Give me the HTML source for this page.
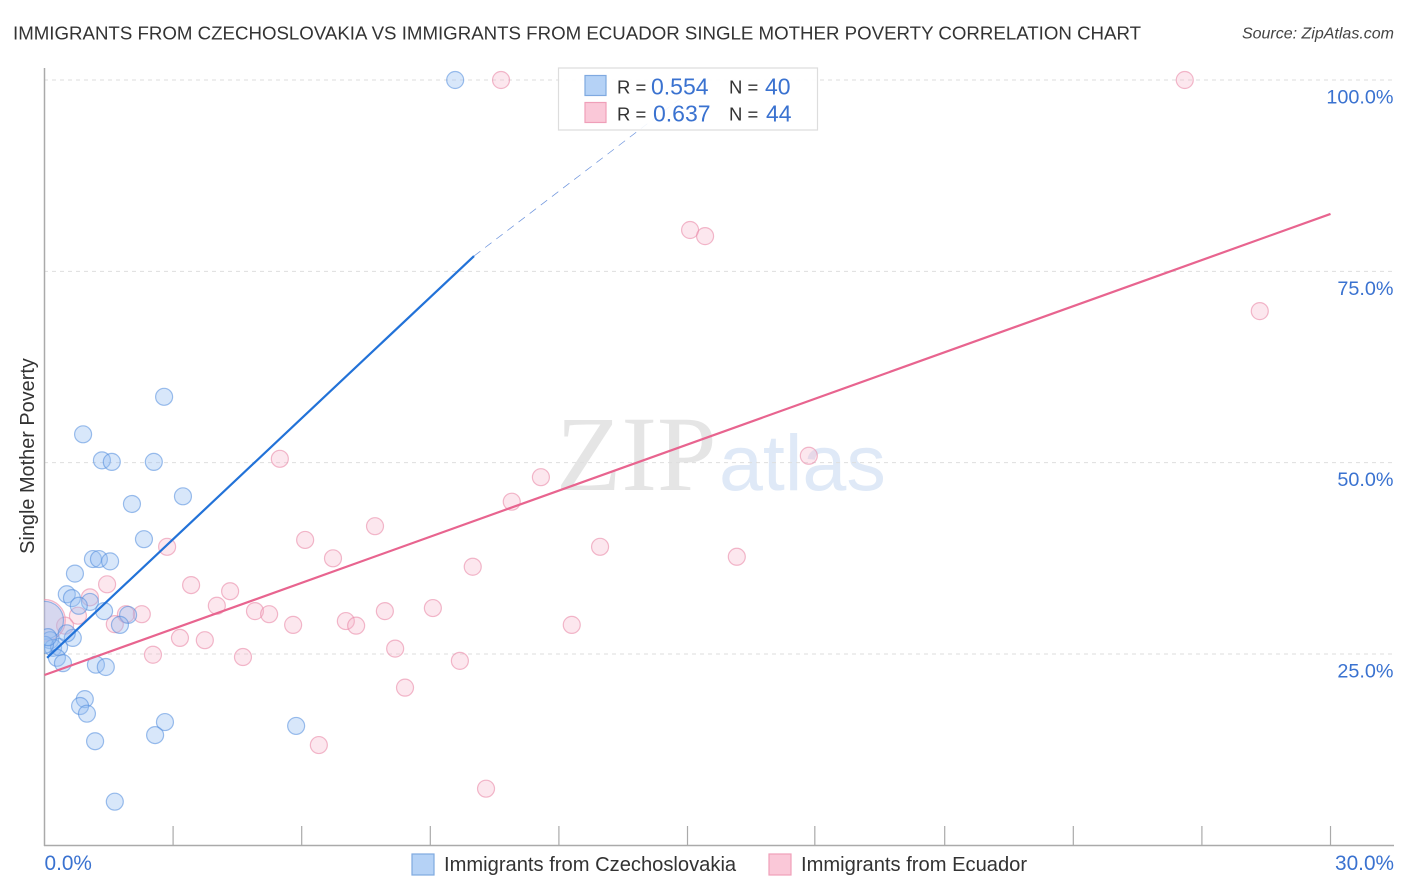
<!DOCTYPE html>
<html>
<head>
<meta charset="utf-8">
<title>Single Mother Poverty Correlation Chart</title>
<style>
html,body{margin:0;padding:0;background:#fff;width:1406px;height:892px;overflow:hidden}
svg{display:block;font-family:"Liberation Sans",sans-serif}
</style>
</head>
<body>
<svg id="chart" width="1406" height="892" viewBox="0 0 1406 892" xmlns="http://www.w3.org/2000/svg">
<defs><clipPath id="plot-clip"><rect x="44" y="60" width="1350" height="785"/></clipPath></defs>
<rect width="1406" height="892" fill="#fff"/>
<text x="13" y="39.5" font-size="18.68" fill="#333">IMMIGRANTS FROM CZECHOSLOVAKIA VS IMMIGRANTS FROM ECUADOR SINGLE MOTHER POVERTY CORRELATION CHART</text>
<text x="1394" y="38.5" font-size="16" font-style="italic" text-anchor="end" fill="#444">Source: ZipAtlas.com</text>
<text transform="translate(34,456) rotate(-90)" font-size="19.9" text-anchor="middle" fill="#333">Single Mother Poverty</text>
<g id="watermark">
<text x="556" y="490" font-family="'Liberation Serif',serif" font-size="107" fill="#e5e5e5">ZIP</text>
<text x="719" y="490" font-size="79" fill="#dfe9f7">atlas</text>
</g>
<g id="grid"></g>
<g id="axes"></g>
<g id="marks" clip-path="url(#plot-clip)"></g>
<g id="trends" clip-path="url(#plot-clip)"></g>
<g id="labels"></g>
<g>
<rect x="558.5" y="68" width="259" height="62" fill="#fff" fill-opacity="0.9" stroke="#ddd" stroke-width="1.2"/>
<rect x="585" y="75.5" width="21" height="20" fill="#b5d2f6" stroke="#7fa9e0" stroke-width="1.2"/>
<rect x="585" y="102.5" width="21" height="20" fill="#fac8d8" stroke="#ef9fb9" stroke-width="1.2"/>
<text x="617" y="93.5" font-size="18.5" fill="#333">R =</text>
<text x="651" y="94.5" font-size="23" fill="#3a72d0">0.554</text>
<text x="729" y="93.5" font-size="18.5" fill="#333">N =</text>
<text x="765" y="94.5" font-size="23" fill="#3a72d0">40</text>
<text x="617" y="120.5" font-size="18.5" fill="#333">R =</text>
<text x="653" y="121.5" font-size="23" fill="#3a72d0">0.637</text>
<text x="729" y="120.5" font-size="18.5" fill="#333">N =</text>
<text x="766" y="121.5" font-size="23" fill="#3a72d0">44</text>
</g>
<g>
<rect x="412" y="854" width="22" height="21" fill="#b5d2f6" stroke="#7fa9e0" stroke-width="1.2"/>
<text x="444" y="871" font-size="20.15" fill="#333">Immigrants from Czechoslovakia</text>
<rect x="769" y="854" width="22" height="21" fill="#fac8d8" stroke="#ef9fb9" stroke-width="1.2"/>
<text x="801" y="871" font-size="20.15" fill="#333">Immigrants from Ecuador</text>
</g>
</svg>
<script>
const blueX = [9.58,2.79,0.90,1.34,1.57,2.55,3.23,2.04,2.32,1.13,1.27,1.53,0.71,0.52,0.64,1.06,0.80,1.39,1.95,1.76,0,0.13,0.20,0.34,0.66,0.52,0.29,0.43,1.20,1.43,0.94,0.83,0.99,2.81,2.58,1.18,5.87,1.64,0.01,0.08];
const blueY = [100,58.6,53.7,50.3,50.1,50.1,45.6,44.6,40.0,37.4,37.4,37.1,35.5,32.8,32.3,31.8,31.3,30.6,30.1,28.8,29.4,26.8,25.8,25.9,27.1,27.7,24.5,23.8,23.6,23.3,19.1,18.2,17.2,16.1,14.4,13.6,15.6,5.7,26.2,27.2];
const blueWeight = [1,1,1,1,1,1,1,1,1,1,1,1,1,1,1,1,1,1,1,1,5,1,1,1,1,1,1,1,1,1,1,1,1,1,1,1,1,1,1,1];
const pinkX = [10.65,26.6,15.06,15.41,28.35,17.83,5.49,11.58,10.9,7.71,6.08,12.96,2.86,6.73,16.15,9.99,1.46,3.42,4.33,1.06,4.02,9.06,7.94,4.91,5.24,2.27,1.90,0.78,7.03,7.27,5.8,12.3,1.64,0.48,3.16,3.74,8.18,2.53,4.63,9.69,8.41,6.4,10.3,0];
const pinkY = [100,100,80.4,79.6,69.8,50.9,50.5,48.1,44.9,41.7,39.9,39.0,39.0,37.5,37.7,36.4,34.1,34.0,33.2,32.4,31.3,31.0,30.6,30.6,30.2,30.2,30.2,30.0,29.3,28.7,28.8,28.8,28.9,28.7,27.1,26.8,25.7,24.9,24.6,24.1,20.6,13.1,7.4,29.4];
const pinkWeight = [1,1,1,1,1,1,1,1,1,1,1,1,1,1,1,1,1,1,1,1,1,1,1,1,1,1,1,1,1,1,1,1,1,1,1,1,1,1,1,1,1,1,1,6];
const blueTrendX = [0.06,10.02];
const blueTrendY = [24.5,77.0];
const blueTrendDashX = [10.02,15.4];
const blueTrendDashY = [77.0,100];
const pinkTrendX = [0,30];
const pinkTrendY = [22.25,82.5];
const yTicks = [25,50,75,100];
const yTickLabels = ["25.0%","50.0%","75.0%","100.0%"];
const xTicks = [3,6,9,12,15,17.97,21,24,27,30];
const xEndTicks = [0,30];
const xEndLabels = ["0.0%","30.0%"];

const NS = "http://www.w3.org/2000/svg";
function sx(v){ return 44.5 + v * 42.867; }
function sy(v){ return 845.3 - v * 7.653; }
function make(tag, attrs, parent){
  const el = document.createElementNS(NS, tag);
  for (const k in attrs) el.setAttribute(k, attrs[k]);
  document.getElementById(parent).appendChild(el);
  return el;
}
yTicks.forEach(function(t, i){
  const g = make("line", {x1:44, x2:1394, y1:sy(t), y2:sy(t), stroke:"#dedede", "stroke-width":1, "stroke-dasharray":"4 4"}, "grid");
  
  
  const l = make("text", {x:1393.5, y:sy(t)+23.5, "font-size":19.8, "text-anchor":"end", fill:"#3a72d0"}, "labels");
  
  
  l.textContent = yTickLabels[i];
});
const yAxis = make("line", {x1:44.5, x2:44.5, y1:68, y2:846, stroke:"#aaa", "stroke-width":1.5}, "axes");


const xAxis = make("line", {x1:44, x2:1394, y1:845.5, y2:845.5, stroke:"#aaa", "stroke-width":1.5}, "axes");


xTicks.forEach(function(t){
  const k = make("line", {x1:sx(t), x2:sx(t), y1:826, y2:845, stroke:"#aaa", "stroke-width":1.2}, "axes");
  
  
});
xEndTicks.forEach(function(t, i){
  const l = make("text", {x:i === 0 ? sx(t) : sx(t)+63.5, y:870, "font-size":20.8, "text-anchor":i === 0 ? "start" : "end", fill:"#3a72d0"}, "labels");
  
  
  l.textContent = xEndLabels[i];
});
pinkX.forEach(function(v, i){
  const c = make("circle", {cx:sx(v), cy:sy(pinkY[i]), r:8.5*Math.sqrt(pinkWeight[i]), fill:"#f7b3c9", "fill-opacity":0.32, stroke:"#e98aa9", "stroke-opacity":0.6, "stroke-width":1.2}, "marks");
  
  
});
blueX.forEach(function(v, i){
  const c = make("circle", {cx:sx(v), cy:sy(blueY[i]), r:8.5*Math.sqrt(blueWeight[i]), fill:"#93bdf2", "fill-opacity":0.36, stroke:"#4f8bdc", "stroke-opacity":0.55, "stroke-width":1.2}, "marks");
  
  
});
const dash = make("line", {x1:sx(blueTrendDashX[0]), y1:sy(blueTrendDashY[0]), x2:sx(blueTrendDashX[1]), y2:sy(blueTrendDashY[1]), stroke:"#3b6fd0", "stroke-width":0.7, "stroke-opacity":0.75, "stroke-dasharray":"8 6"}, "trends");


const bt = make("line", {x1:sx(blueTrendX[0]), y1:sy(blueTrendY[0]), x2:sx(blueTrendX[1]), y2:sy(blueTrendY[1]), stroke:"#2272d8", "stroke-width":2.2}, "trends");


const pt = make("line", {x1:sx(pinkTrendX[0]), y1:sy(pinkTrendY[0]), x2:sx(pinkTrendX[1]), y2:sy(pinkTrendY[1]), stroke:"#e8648f", "stroke-width":2.2}, "trends");


</script>
</body>
</html>
